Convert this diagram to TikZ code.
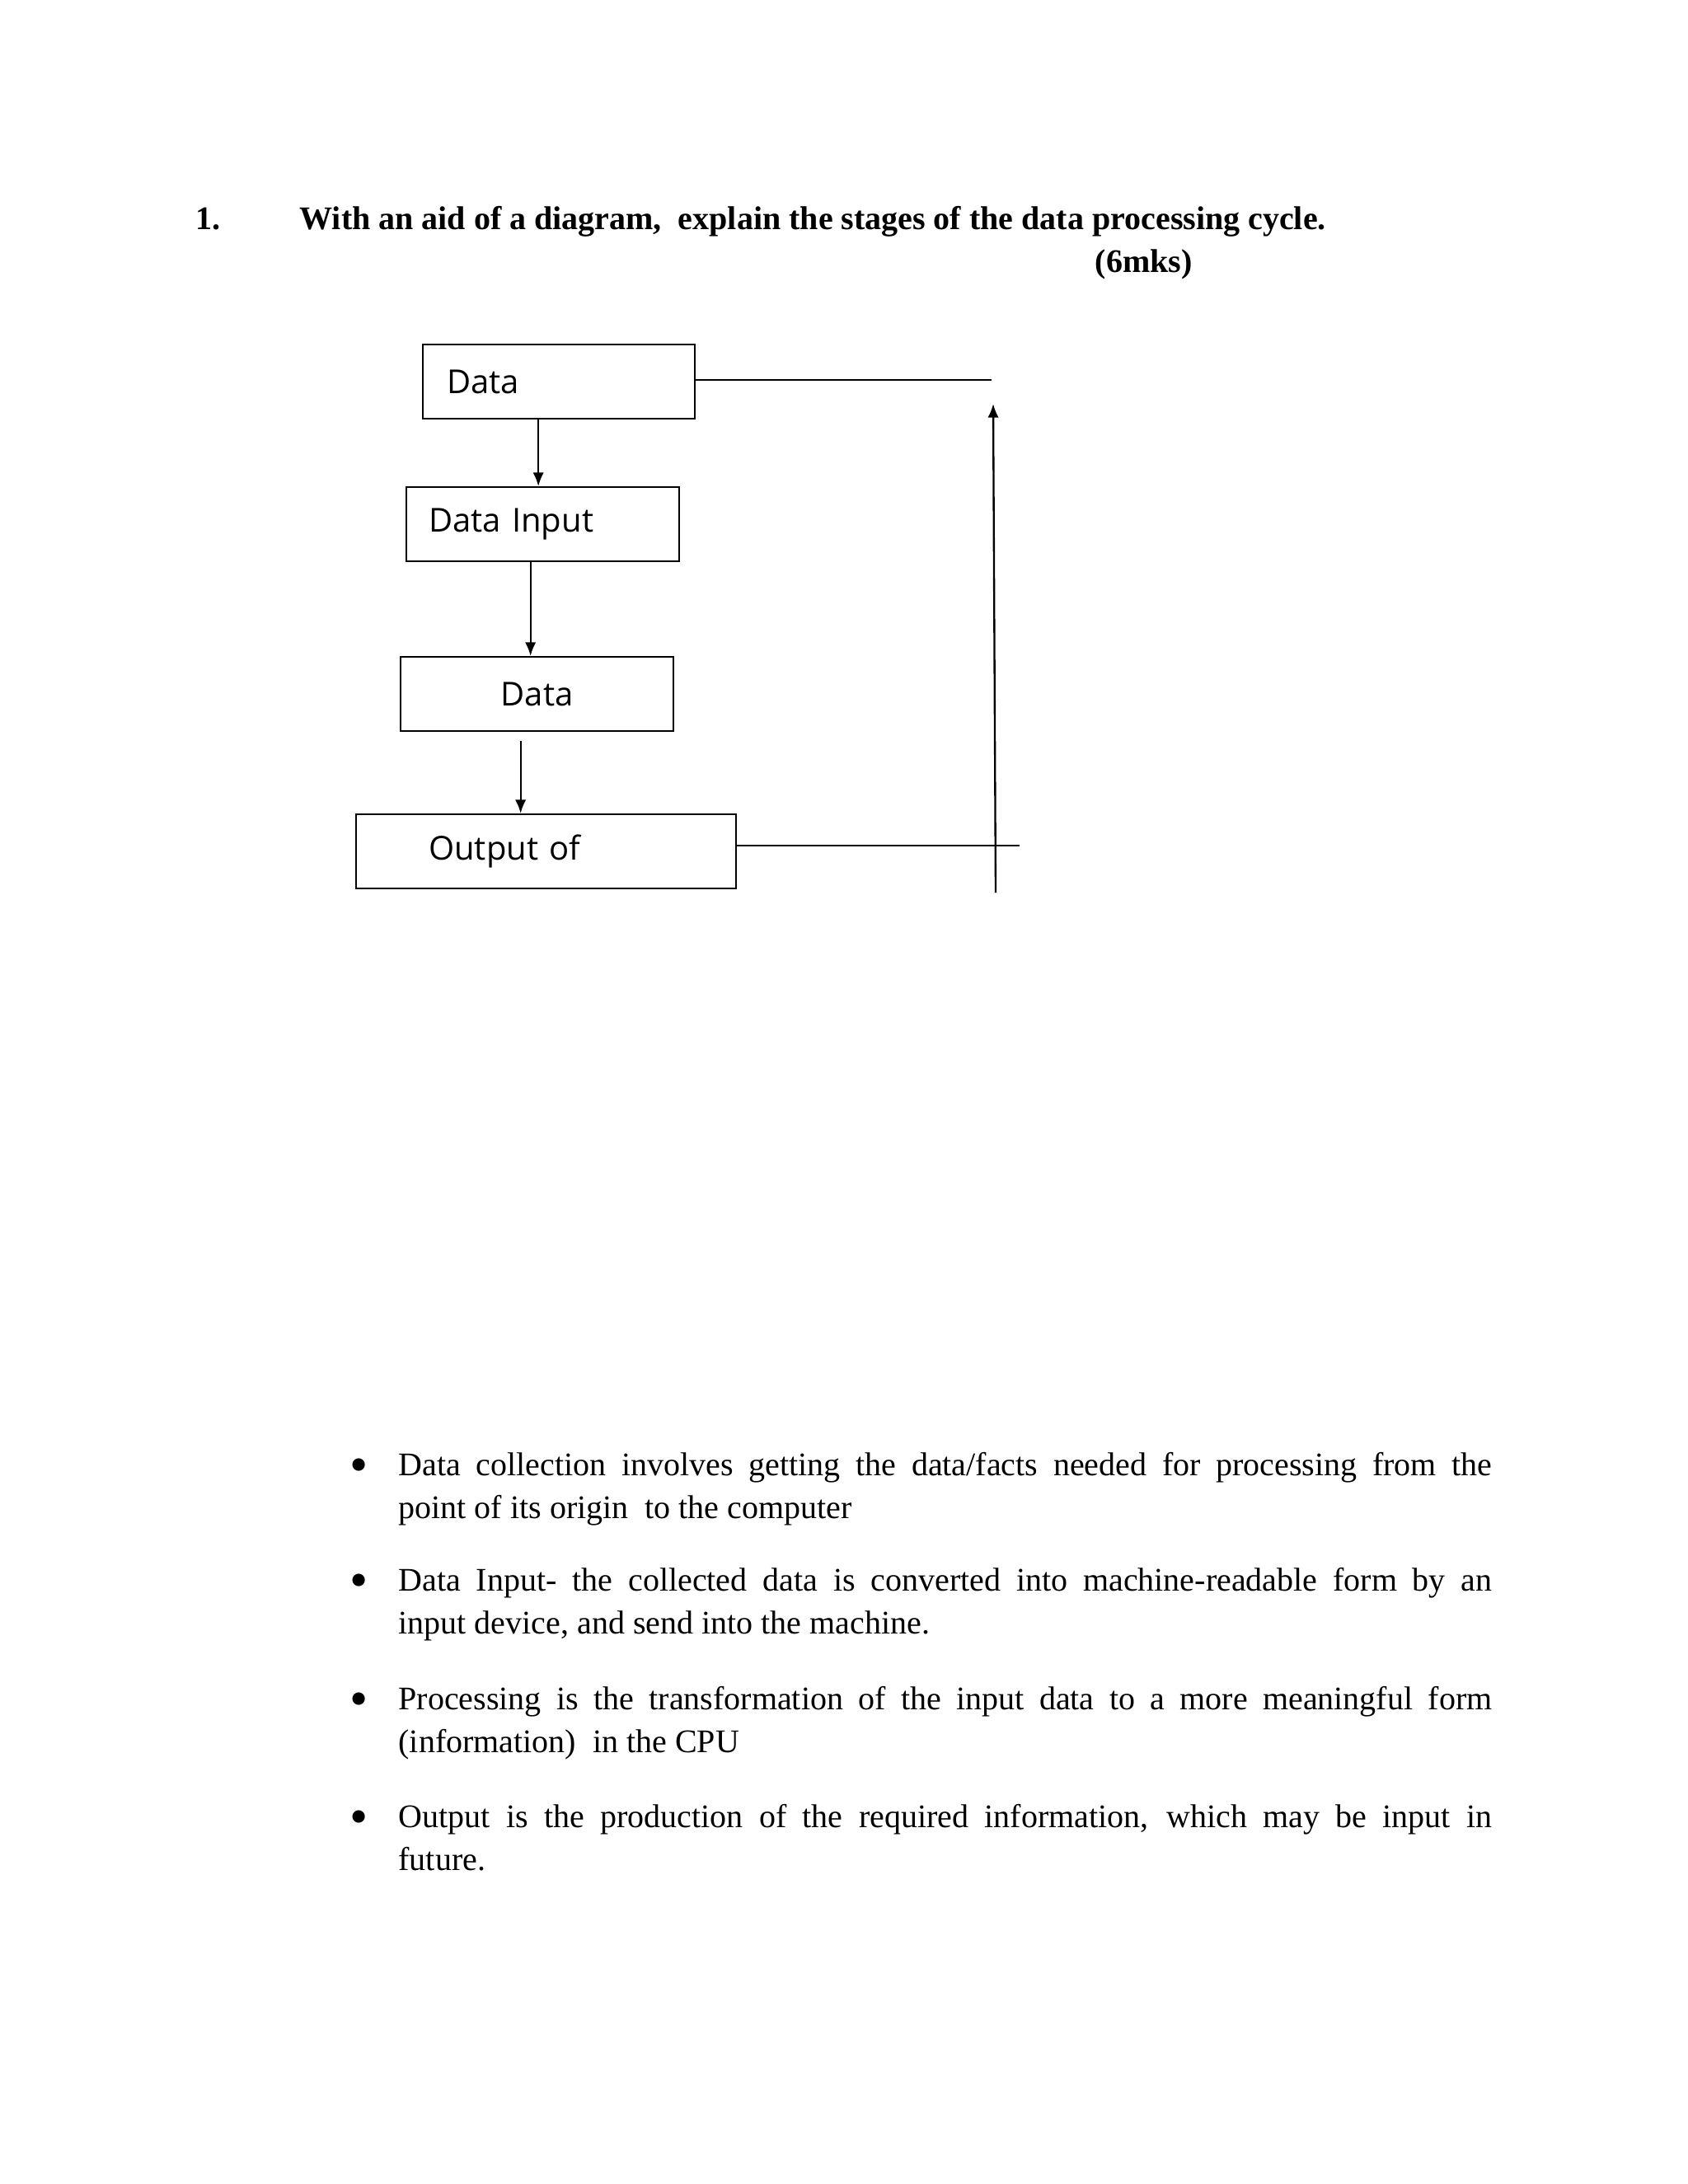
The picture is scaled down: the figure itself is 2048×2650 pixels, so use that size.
\documentclass[tikz,border=0pt]{standalone}
\usepackage{fontspec}
\setmainfont{Liberation Serif}
\newfontfamily\boxfont{Open Sans}
\usetikzlibrary{calc,arrows.meta}

\begin{document}
\begin{tikzpicture}[x=0.010542cm,y=-0.010542cm,
	stage/.style={draw,line width=0.7pt,anchor=north west,minimum height=27pt,inner ysep=0pt,font=\boxfont\fontsize{12}{14}\selectfont},
	arr/.style={line width=0.7pt,-{Latex[length=5pt,width=4pt]}},
	link/.style={line width=0.7pt},
	heading/.style={anchor=base west,inner sep=0pt,font=\bfseries\fontsize{12}{14}\selectfont},
	dot/.style={inner sep=0pt,font=\fontsize{19}{19}\selectfont},
	bodytext/.style={anchor=north west,inner sep=0pt,text width=398pt,align=justify,font=\fontsize{12}{15.6}\selectfont}]
					\useasboundingbox (0,0) rectangle (2048,2650);
					% question
					\node[heading] (qnum) at (237,278) {1.};
					\node[heading] (question) at (363,278) {With an aid of a diagram,\ \ explain the stages of the data processing cycle.};
					\node[heading] (marks) at (1328,330) {(6mks)};
					% stages
					\node[stage,inner xsep=8.7pt,text width=81.6pt,align=left] (collect) at (512,417) {Data};
					\node[stage,inner xsep=8.1pt,text width=83.1pt,align=left] (input) at (492,590) {Data Input};
					\node[stage,inner xsep=8pt,text width=83.3pt,align=center] (process) at (485,796) {Data};
					\node[stage,inner xsep=26.4pt,text width=85.5pt,align=left] (output) at (431,987) {Output of};
					\draw[arr] ($(collect.south)+(-25,0)$) coordinate (a1) -- (a1 |- input.north);
					\draw[arr] ($(input.south)+(-15,0)$) coordinate (a2) -- (a2 |- process.north);
					\draw[arr] ($(process.south)+(-20,11)$) coordinate (a3) -- (a3 |- output.north);
					% feedback
					\coordinate (topend) at (1203,461);
					\coordinate (botend) at (1237,1026);
					\coordinate (risebase) at (1208,1083);
					\coordinate (risetop) at (1205,490);
					\draw[link] (collect.east |- topend) -- (topend);
					\draw[link] (output.east |- botend) -- (botend);
					\draw[arr] (risebase) -- (risetop);
					% explanation
					\node[dot] (dot1) at (436,1784) {\textbullet};
					\node[dot] (dot2) at (436,1924) {\textbullet};
					\node[dot] (dot3) at (436,2068) {\textbullet};
					\node[dot] (dot4) at (436,2211) {\textbullet};
					\node[bodytext] (collecttext) at (483,1762) {Data collection involves getting the data/facts needed for processing from the\linebreak point of its origin\ \ to the computer};
					\node[bodytext] (inputtext) at (483,1902) {Data Input- the collected data is converted into machine-readable form by an\linebreak input device, and send into the machine.};
					\node[bodytext] (processtext) at (483,2046) {Processing is the transformation of the input data to a more meaningful form\linebreak (information)\ \ in the CPU};
					\node[bodytext] (outputtext) at (483,2189) {Output is the production of the required information, which may be input in\linebreak future.};
				\end{tikzpicture}
\end{document}
